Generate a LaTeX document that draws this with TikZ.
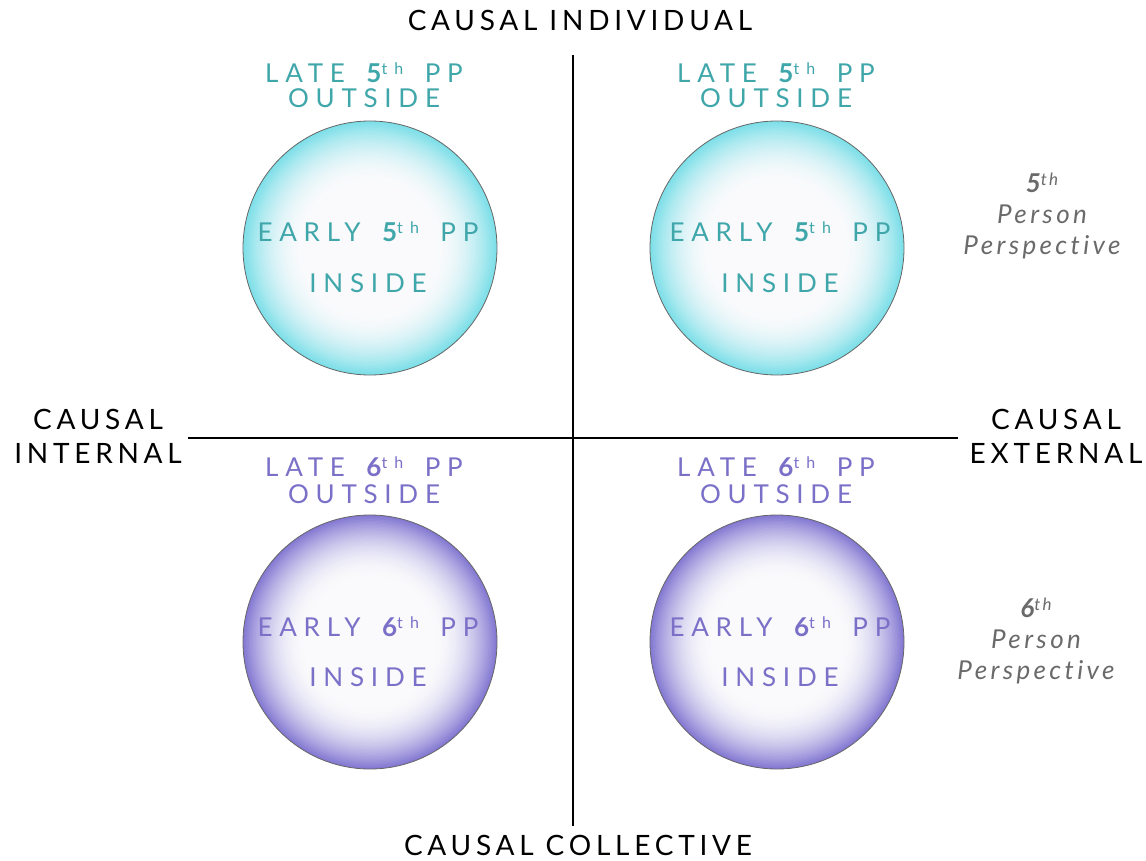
\documentclass[tikz,border=0pt]{standalone}
\usepackage{fontspec}
\setmainfont{Lato}
\newfontfamily\axisfont[LetterSpace=17]{Lato}
\newfontfamily\ballfont[LetterSpace=26,WordSpace=1.6]{Lato}
\newfontfamily\thfont[LetterSpace=45]{Lato}
\newfontfamily\perspfont[LetterSpace=13,Ligatures=NoCommon]{Lato}
\definecolor{tealtxt}{HTML}{3FA6AA}
\definecolor{cyanedge}{HTML}{7CDFE8}
\definecolor{purptxt}{HTML}{7A70C8}
\definecolor{purpedge}{HTML}{8378D2}
\definecolor{persptxt}{HTML}{6A6A6A}
\definecolor{ballcenter}{HTML}{FAFAFC}
\newcommand{\sth}{\raisebox{0.6ex}{\thfont\fontsize{16}{16}\selectfont th}}
\newcommand{\pth}{\raisebox{0.55ex}{\fontsize{17}{17}\selectfont\itshape th}}
\newcommand{\ballshade}[2]{%
  \foreach \i in {0,...,45}{%
    \pgfmathsetmacro{\rr}{127-\i*1.4}%
    \pgfmathsetmacro{\pc}{100*(1-\i/45)^2}%
    \fill[#2!\pc!ballcenter] (#1) circle[radius=\rr];
  }}
\begin{document}
\begin{tikzpicture}[x=1pt,y=-1pt,
  axislbl/.style={font=\axisfont\fontsize{28}{34}\selectfont, align=center, inner sep=0pt, text=black},
  balltxt/.style={font=\ballfont\fontsize{26}{26}\selectfont, inner sep=0pt},
  perspl/.style={font=\perspfont\itshape\fontsize{26}{31}\selectfont, align=center, inner sep=0pt, text=persptxt},
  ball/.style={circle, minimum size=254pt, inner sep=0pt, draw=black!60, line width=0.8pt},
  axisline/.style={line width=1.3pt, black}]
\useasboundingbox (0,0) rectangle (1146,861);
% axes
\coordinate (vt) at (573,55);
\coordinate (vb) at (573,826);
\coordinate (hl) at (188,438);
\coordinate (hr) at (958,438);
\draw[axisline] (vt) -- (vb);
\draw[axisline] (hl) -- (hr);
% axis labels
\node[axislbl] (top) at (580,20) {CAUSAL INDIVIDUAL};
\node[axislbl] (bot) at (578,845) {CAUSAL COLLECTIVE};
\node[axislbl] (lft) at (98,436) {CAUSAL\\INTERNAL};
\node[axislbl] (rgt) at (1056,436) {CAUSAL\\EXTERNAL};
% circle shading
\coordinate (k1) at (370,248);
\coordinate (k2) at (777,248);
\coordinate (k3) at (370,642);
\coordinate (k4) at (777,642);
\ballshade{k1}{cyanedge}
\ballshade{k2}{cyanedge}
\ballshade{k3}{purpedge}
\ballshade{k4}{purpedge}
% circles
\node[ball] (c1) at (k1) {};
\node[ball] (c2) at (k2) {};
\node[ball] (c3) at (k3) {};
\node[ball] (c4) at (k4) {};
% circle texts top
\foreach \cx/\nm in {364/a,776/b}{
  \node[balltxt, text=tealtxt] (late\nm) at (\cx,73) {LATE {\bfseries 5}\sth{} PP};
  \node[balltxt, text=tealtxt] (out\nm) at (\cx,98) {OUTSIDE};
  \node[balltxt, text=tealtxt] (early\nm) at (\cx+4,232) {EARLY {\bfseries 5}\sth{} PP};
  \node[balltxt, text=tealtxt] (ins\nm) at (\cx+4,283) {INSIDE};
}
\foreach \cx/\nm in {364/c,776/d}{
  \node[balltxt, text=purptxt] (late\nm) at (\cx,467) {LATE {\bfseries 6}\sth{} PP};
  \node[balltxt, text=purptxt] (out\nm) at (\cx,494) {OUTSIDE};
  \node[balltxt, text=purptxt] (early\nm) at (\cx+4,627) {EARLY {\bfseries 6}\sth{} PP};
  \node[balltxt, text=purptxt] (ins\nm) at (\cx+4,677) {INSIDE};
}
% perspective labels
\node[perspl] (p5) at (1042,216) {{\bfseries 5}\pth\\Person\\Perspective};
\node[perspl] (p6) at (1036,641) {{\bfseries 6}\pth\\Person\\Perspective};
\end{tikzpicture}
\end{document}
